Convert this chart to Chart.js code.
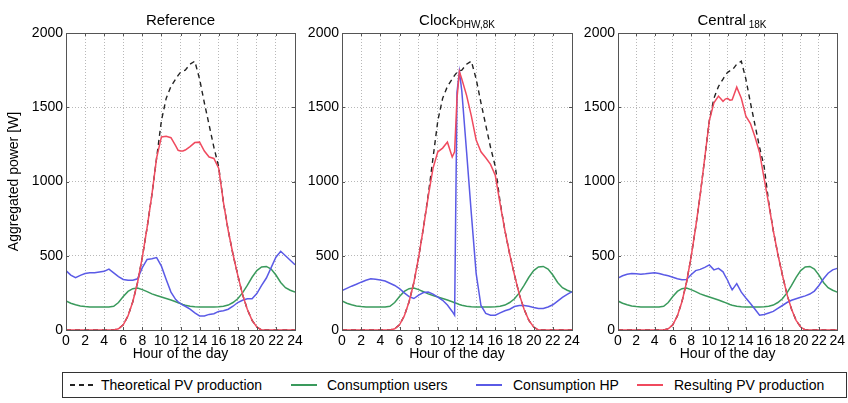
<!DOCTYPE html>
<html>
<head>
<meta charset="utf-8">
<title>Aggregated power per scenario</title>
<script src="https://cdn.jsdelivr.net/npm/chart.js"></script>
<style>
  body { margin: 0; background: #fff; font-family: "Liberation Sans", Arial, sans-serif; }
  #wrap { position: relative; width: 848px; height: 403px; background: #fff; overflow: hidden; }
  canvas { position: absolute; top: 0; }
  .title { position: absolute; top: 11px; text-align: center; font-size: 15px; color: #000; line-height: 18px; }
  .title sub { font-size: 10px; vertical-align: -3px; }
  .legend { position: absolute; left: 62px; top: 372px; width: 783px; height: 24px; border: 1px solid #333; font-size: 14px; }
  .legend .item { position: absolute; top: 4px; line-height: 16px; white-space: nowrap; }
  .legend .swatch { position: absolute; top: 11px; width: 26px; height: 2px; }
  .legend .dash { background: repeating-linear-gradient(90deg, #222 0 5px, transparent 5px 9px); }
</style>
</head>
<body>
<div id="wrap">
  <canvas id="c1" width="310" height="366" style="left:0"></canvas>
  <canvas id="c2" width="290" height="366" style="left:300px"></canvas>
  <canvas id="c3" width="270" height="366" style="left:578px"></canvas>

  <div class="title" style="left:66px;width:229px">Reference</div>
  <div class="title" style="left:342px;width:230px">Clock<sub>DHW,8K</sub></div>
  <div class="title" style="left:618px;width:228px">Central<sub>&nbsp;18K</sub></div>

  <div class="legend">
    <div class="swatch dash" style="left:7px"></div>
    <div class="item" style="left:38px">Theoretical PV production</div>
    <div class="swatch" style="left:228px;background:#3a9a5c"></div>
    <div class="item" style="left:264px">Consumption users</div>
    <div class="swatch" style="left:413px;background:#5a5ae6"></div>
    <div class="item" style="left:450px">Consumption HP</div>
    <div class="swatch" style="left:574px;background:#f04a5e"></div>
    <div class="item" style="left:611px">Resulting PV production</div>
  </div>
</div>

<script>
// hour of the day (half-hour steps, extra points around noon)
const HOURS = [0, 0.5, 1, 1.5, 2, 2.5, 3, 3.5, 4, 4.5, 5, 5.5, 6, 6.5, 7, 7.5, 8, 8.5, 9, 9.5, 10, 10.5, 11, 11.5,
  11.75, 12, 12.25, 12.5,
  13, 13.5, 14, 14.5, 15, 15.5, 16, 16.5, 17, 17.5, 18, 18.5, 19, 19.5, 20, 20.5, 21, 21.5, 22, 22.5, 23, 23.5, 24];

const X_TICKS = [0, 2, 4, 6, 8, 10, 12, 14, 16, 18, 20, 22, 24];
const Y_TICKS = [0, 500, 1000, 1500, 2000];

const THEORETICAL_PV = [0, 0, 0, 0, 0, 0, 0, 0, 0, 0, 0, 8, 35, 95, 190, 320, 490, 690, 910, 1160, 1410, 1560, 1640, 1690,
  1715, 1735, 1745, 1750,
  1790, 1810, 1690, 1530, 1380, 1230, 1100, 860, 670, 510, 370, 240, 140, 65, 20, 0, 0, 0, 0, 0, 0, 0, 0];

// same user consumption in all three scenarios
const CONSUMPTION_USERS = [195, 180, 170, 162, 158, 155, 155, 155, 155, 155, 160, 185, 225, 260, 278, 282, 272, 258, 243, 232, 222, 212, 202, 190,
  184, 178, 172, 167,
  160, 157, 155, 155, 155, 155, 157, 160, 168, 185, 210, 250, 300, 355, 400, 425, 428, 410, 370, 320, 285, 268, 255];

// Reference
const HP_REFERENCE = [400, 370, 352, 368, 380, 385, 385, 390, 395, 410, 385, 360, 340, 335, 335, 345, 420, 475, 480, 488, 430, 340, 255, 205,
  190, 178, 168, 160,
  140, 115, 95, 95, 105, 110, 125, 130, 140, 160, 185, 200, 210, 210, 245, 300, 350, 420, 490, 530, 500, 470, 440];
const PV_REFERENCE = [0, 0, 0, 0, 0, 0, 0, 0, 0, 0, 0, 8, 35, 95, 190, 320, 490, 690, 910, 1160, 1300, 1305, 1295, 1240,
  1210, 1205, 1205, 1212,
  1235, 1262, 1265, 1205, 1165, 1155, 1090, 860, 670, 510, 370, 240, 140, 65, 20, 0, 0, 0, 0, 0, 0, 0, 0];

// Clock DHW,8K
const HP_CLOCK = [265, 280, 295, 308, 322, 335, 345, 342, 336, 330, 315, 300, 278, 250, 225, 212, 235, 252, 255, 242, 222, 200, 168, 125,
  100, 1600, 1740, 1610,
  1200, 780, 380, 165, 112, 100, 100, 115, 130, 140, 158, 165, 165, 160, 152, 145, 145, 155, 170, 195, 220, 240, 258];
const PV_CLOCK = [0, 0, 0, 0, 0, 0, 0, 0, 0, 0, 0, 8, 35, 95, 190, 320, 490, 690, 900, 1090, 1200, 1225, 1265, 1165,
  1200, 1560, 1740, 1690,
  1580, 1440, 1280, 1200, 1160, 1115, 1040, 850, 670, 510, 370, 240, 140, 65, 20, 0, 0, 0, 0, 0, 0, 0, 0];

// Central 18K
const HP_CENTRAL = [350, 365, 375, 380, 378, 375, 378, 382, 385, 380, 372, 365, 355, 345, 338, 340, 372, 400, 408, 422, 438, 405, 415, 392,
  362, 335, 300, 270,
  312, 255, 215, 178, 140, 100, 105, 115, 125, 145, 165, 185, 200, 210, 220, 230, 242, 262, 300, 345, 382, 405, 415];
const PV_CENTRAL = [0, 0, 0, 0, 0, 0, 0, 0, 0, 0, 0, 8, 35, 95, 190, 320, 490, 690, 910, 1160, 1410, 1530, 1575, 1540,
  1555, 1560, 1548, 1550,
  1635, 1560, 1440, 1390, 1300, 1195, 1020, 850, 670, 510, 370, 240, 140, 65, 20, 0, 0, 0, 0, 0, 0, 0, 0];

const FONT = '"Liberation Sans", Arial, sans-serif';
const pts = vals => HOURS.map((h, i) => ({ x: h, y: vals[i] }));

// matlab style box with inward ticks
const frame = {
  id: 'frame',
  afterDraw(chart) {
    const { ctx, chartArea: a, scales: { x, y } } = chart;
    ctx.save();
    ctx.strokeStyle = '#555';
    ctx.lineWidth = 1;
    ctx.strokeRect(Math.round(a.left) + 0.5, Math.round(a.top) + 0.5, Math.round(a.width), Math.round(a.height));
    ctx.beginPath();
    X_TICKS.forEach(v => {
      const px = Math.round(x.getPixelForValue(v)) + 0.5;
      ctx.moveTo(px, a.bottom); ctx.lineTo(px, a.bottom - 3);
      ctx.moveTo(px, a.top); ctx.lineTo(px, a.top + 3);
    });
    Y_TICKS.forEach(v => {
      const py = Math.round(y.getPixelForValue(v)) + 0.5;
      ctx.moveTo(a.left, py); ctx.lineTo(a.left + 3, py);
      ctx.moveTo(a.right, py); ctx.lineTo(a.right - 3, py);
    });
    ctx.stroke();
    ctx.restore();
  }
};

const gridColor = (c, lo, hi) => (c.tick && (c.tick.value === lo || c.tick.value === hi)) ? 'rgba(0,0,0,0)' : '#b8b8b8';

function makePanel(id, hp, pv, yAxisWidth, rightPad, showYTitle) {
  new Chart(document.getElementById(id), {
    type: 'line',
    data: {
      datasets: [
        { label: 'Theoretical PV production', data: pts(THEORETICAL_PV), borderColor: '#222', borderDash: [5, 4], borderWidth: 1.4, order: 4 },
        { label: 'Consumption users', data: pts(CONSUMPTION_USERS), borderColor: '#3a9a5c', borderWidth: 1.5, order: 3 },
        { label: 'Consumption HP', data: pts(hp), borderColor: '#5a5ae6', borderWidth: 1.5, order: 2 },
        { label: 'Resulting PV production', data: pts(pv), borderColor: '#f04a5e', borderWidth: 1.5, order: 1 }
      ]
    },
    options: {
      responsive: false,
      animation: false,
      devicePixelRatio: 1,
      layout: { padding: { top: 33, right: rightPad, bottom: 0, left: 0 } },
      elements: { point: { radius: 0 }, line: { tension: 0 } },
      plugins: { legend: { display: false }, tooltip: { enabled: false } },
      scales: {
        x: {
          type: 'linear', min: 0, max: 24,
          afterBuildTicks: s => { s.ticks = X_TICKS.map(v => ({ value: v })); },
          afterFit: s => { s.height = 36; },
          ticks: { autoSkip: false, maxRotation: 0, padding: 3, color: '#000', font: { family: FONT, size: 14 }, callback: v => String(v) },
          grid: { color: c => gridColor(c, 0, 24), drawTicks: false, lineWidth: 1 },
          border: { display: false, dash: [1, 2] },
          title: { display: true, text: 'Hour of the day', color: '#000', font: { family: FONT, size: 14 }, padding: { top: 0, bottom: 3 } }
        },
        y: {
          min: 0, max: 2000,
          afterBuildTicks: s => { s.ticks = Y_TICKS.map(v => ({ value: v })); },
          afterFit: s => { s.width = yAxisWidth; },
          ticks: { padding: 3, color: '#000', font: { family: FONT, size: 14 }, callback: v => String(v) },
          grid: { color: c => gridColor(c, 0, 2000), drawTicks: false, lineWidth: 1 },
          border: { display: false, dash: [1, 2] },
          title: { display: showYTitle, text: 'Aggregated power [W]', color: '#000', font: { family: FONT, size: 14 }, padding: { top: 6, bottom: 0 } }
        }
      }
    },
    plugins: [frame]
  });
}

makePanel('c1', HP_REFERENCE, PV_REFERENCE, 66, 15, true);
makePanel('c2', HP_CLOCK, PV_CLOCK, 42, 18, false);
makePanel('c3', HP_CENTRAL, PV_CENTRAL, 40, 0, false);
</script>
</body>
</html>
